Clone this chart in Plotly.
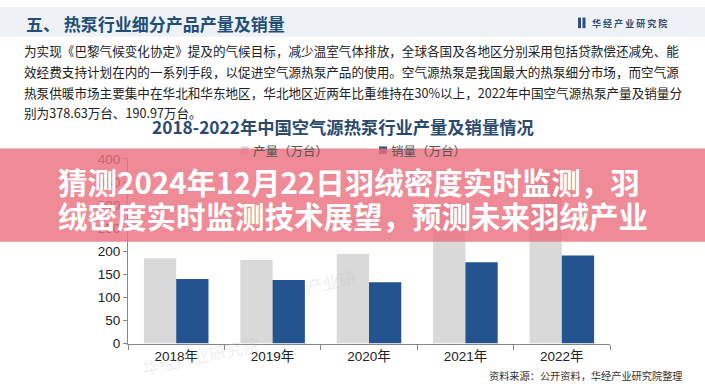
import plotly.graph_objects as go

W, H = 705, 392

years = ["2018年", "2019年", "2020年", "2021年", "2022年"]
production = [185, 181, 194, 300, 378.63]
sales = [140, 138, 133, 176, 190.97]
y_ticks = [0, 50, 100, 150, 200, 250, 300, 350, 400]

header_text = "五、 热泵行业细分产品产量及销量"
brand_text = "华 经 产 业 研 究 院"
paragraph = [
    "为实现《巴黎气候变化协定》提及的气候目标，减少温室气体排放，全球各国及各地区分别采用包括贷款偿还减免、能",
    "效经费支持计划在内的一系列手段，以促进空气源热泵产品的使用。空气源热泵是我国最大的热泵细分市场，而空气源",
    "热泵供暖市场主要集中在华北和华东地区，华北地区近两年比重维持在30%以上，2022年中国空气源热泵产量及销量分",
    "别为378.63万台、190.97万台。",
]
chart_title = "2018-2022年中国空气源热泵行业产量及销量情况"
source_text = "资料来源：公开资料，华经产业研究院整理"
banner_lines = [
    "猜测2024年12月22日羽绒密度实时监测，羽",
    "绒密度实时监测技术展望，预测未来羽绒产业",
]
series_names = ["产量（万台）", "销量（万台）"]
series_colors = ["#d9d9d9", "#24548f"]

CJK = "Noto Sans CJK SC"


def px(x):
    return x / W


def py(y):
    return 1 - y / H


fig = go.Figure()
fig.add_trace(go.Bar(x=years, y=production, name=series_names[0],
                     marker=dict(color=series_colors[0], line=dict(width=0))))
fig.add_trace(go.Bar(x=years, y=sales, name=series_names[1],
                     marker=dict(color=series_colors[1], line=dict(width=0))))

annotations = []
annotations.append(dict(x=px(24), y=py(17), xref="paper", yref="paper", xanchor="left", yanchor="middle",
                        text="<b>" + header_text + "</b>", showarrow=False,
                        font=dict(family=CJK, size=17, color="#1f4e79")))
annotations.append(dict(x=px(590), y=py(17), xref="paper", yref="paper", xanchor="left", yanchor="middle",
                        text="<b>" + brand_text + "</b>", showarrow=False,
                        font=dict(family=CJK, size=9, color="#2e4e7e")))
for i, line in enumerate(paragraph):
    annotations.append(dict(x=px(22), y=py(45 + i * 21.7), xref="paper", yref="paper",
                            xanchor="left", yanchor="middle", text=line, showarrow=False,
                            font=dict(family=CJK, size=12.6, color="#222222")))
annotations.append(dict(x=px(343), y=py(124), xref="paper", yref="paper", xanchor="center", yanchor="middle",
                        text="<b>" + chart_title + "</b>", showarrow=False,
                        font=dict(family=CJK, size=17.3, color="#2b4a70")))
annotations.append(dict(x=px(685), y=py(383), xref="paper", yref="paper", xanchor="right", yanchor="middle",
                        text=source_text, showarrow=False,
                        font=dict(family=CJK, size=10.2, color="#333333")))
# manual legend
legend_x = [241, 379]
for name, color, lx in zip(series_names, series_colors, legend_x):
    annotations.append(dict(x=px(lx + 10), y=py(149), xref="paper", yref="paper", xanchor="left",
                            yanchor="middle", text=name, showarrow=False,
                            font=dict(family=CJK, size=12.5, color="#555555")))
# faint watermarks
annotations.append(dict(x=px(200), y=py(362), xref="paper", yref="paper", xanchor="center", yanchor="middle",
                        text="华经产业研究院", showarrow=False, textangle=-12,
                        font=dict(family=CJK, size=17, color="rgba(190,190,190,0.25)")))
annotations.append(dict(x=px(330), y=py(285), xref="paper", yref="paper", xanchor="center", yanchor="middle",
                        text="产业研", showarrow=False, textangle=-12,
                        font=dict(family=CJK, size=17, color="rgba(190,190,190,0.25)")))
for i, line in enumerate(banner_lines):
    annotations.append(dict(x=px(56), y=py(181 + i * 35), xref="paper", yref="paper",
                            xanchor="left", yanchor="middle", text="<b>" + line + "</b>", showarrow=False,
                            font=dict(family=CJK, size=29.5, color="#ffffff")))

shapes = [
    dict(type="rect", xref="paper", yref="paper", x0=0, x1=1, y0=py(0), y1=py(31),
         fillcolor="#eef2f6", line=dict(width=0), layer="below"),
    dict(type="rect", xref="paper", yref="paper", x0=px(578), x1=px(581), y0=py(11), y1=py(22),
         fillcolor="#2e4e7e", line=dict(width=0)),
    dict(type="rect", xref="paper", yref="paper", x0=px(582.5), x1=px(585.5), y0=py(11), y1=py(22),
         fillcolor="#2e4e7e", line=dict(width=0)),
]
for color, lx in zip(series_colors, legend_x):
    shapes.append(dict(type="rect", xref="paper", yref="paper", x0=px(lx), x1=px(lx + 8),
                       y0=py(145), y1=py(153), fillcolor=color, line=dict(width=0), layer="below"))
shapes.append(dict(type="rect", xref="paper", yref="paper", x0=0, x1=1, y0=py(147), y1=py(244),
                   fillcolor="rgba(236,112,128,0.82)", line=dict(width=0), layer="above"))

fig.update_layout(
    width=W, height=H,
    margin=dict(l=0, r=0, t=0, b=0),
    paper_bgcolor="#ffffff", plot_bgcolor="rgba(0,0,0,0)",
    barmode="group", bargap=0.33, bargroupgap=0,
    showlegend=False, hovermode=False,
    annotations=annotations,
    shapes=shapes,
    xaxis=dict(domain=[px(128), px(610)], type="category", showline=True, linecolor="#888888",
               linewidth=1, ticks="outside", tickson="boundaries", ticklen=5, tickcolor="#888888",
               tickfont=dict(family="Liberation Sans, " + CJK, size=13.5, color="#222222"),
               showgrid=False, zeroline=False),
    yaxis=dict(domain=[py(350), py(158)], range=[0, 400], tickvals=y_ticks, showline=True,
               linecolor="#888888", linewidth=1, ticks="outside", ticklen=4, tickcolor="#888888",
               tickfont=dict(family="Liberation Sans", size=13.5, color="#222222"),
               showgrid=False, zeroline=False),
)

fig.write_html("out.html",
               config={"displayModeBar": False, "staticPlot": True},
               post_script="document.body.style.margin='0';document.body.style.padding='0';"
                           "document.body.style.overflow='hidden';"
                           "document.documentElement.style.overflow='hidden';")
